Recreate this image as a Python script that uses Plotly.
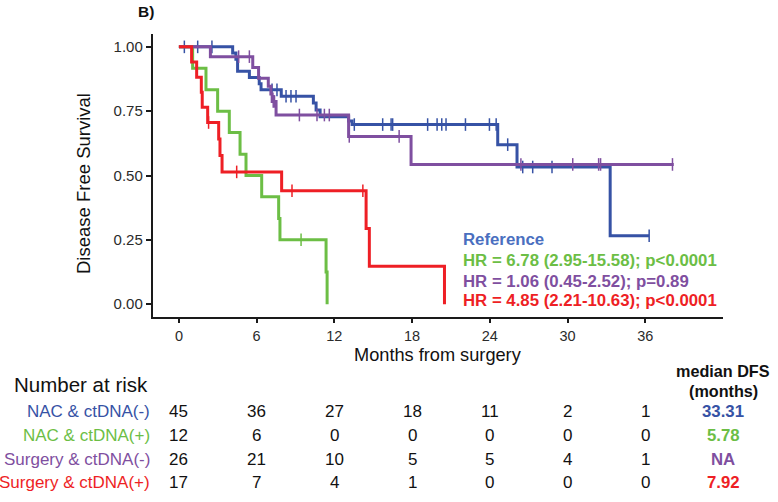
import plotly.graph_objects as go

# ---------------- data ----------------
groups = ["NAC & ctDNA(-)", "NAC & ctDNA(+)", "Surgery & ctDNA(-)", "Surgery & ctDNA(+)"]
colors = ["#3652A5", "#6CBE45", "#7F4FA0", "#EE1F25"]

time_nac_neg = [0, 4.15, 4.4, 4.53, 5.44, 6.2, 6.34, 7.9, 10.38, 10.59, 10.9, 13.1, 13.37, 24.61, 26.1, 33.29, 36.3]
surv_nac_neg = [1.0, 0.976, 0.952, 0.905, 0.881, 0.857, 0.833, 0.808, 0.782, 0.755, 0.728, 0.712, 0.698, 0.620, 0.533, 0.266, 0.266]
cens_nac_neg = [0.42, 1.45, 2.55, 7.19, 7.57, 8.27, 8.65, 9.04, 13.54, 15.73, 16.38, 16.5, 19.2, 19.93,
                20.29, 20.62, 22.12, 23.97, 24.49, 25.38, 26.54, 27.31, 28.8, 36.3]

time_nac_pos = [0, 1.06, 2.09, 2.99, 3.89, 4.72, 5.18, 6.39, 7.7, 7.8, 11.36, 11.44]
surv_nac_pos = [1.0, 0.917, 0.833, 0.75, 0.667, 0.583, 0.5, 0.417, 0.333, 0.25, 0.125, 0.0]
cens_nac_pos = [9.43]

time_sur_neg = [0, 2.43, 5.7, 6.15, 6.9, 7.1, 7.2, 7.5, 13.1, 17.92, 38.2]
surv_sur_neg = [1.0, 0.962, 0.920, 0.878, 0.847, 0.817, 0.788, 0.735, 0.652, 0.543, 0.543]
cens_sur_neg = [4.61, 5.44, 7.28, 7.38, 9.3, 10.66, 11.23, 11.61, 13.15, 17.0, 26.4, 30.4, 32.4, 32.55, 38.1]

time_sur_pos = [0, 0.98, 1.37, 1.73, 1.8, 2.22, 3.07, 3.17, 3.33, 7.93, 14.45, 14.7, 20.5]
surv_sur_pos = [1.0, 0.941, 0.882, 0.824, 0.765, 0.706, 0.642, 0.578, 0.514, 0.441, 0.294, 0.147, 0.0]
cens_sur_pos = [2.29, 4.46, 8.73, 14.2]

risk_times = [0, 6, 12, 18, 24, 30, 36]
risk_nac_neg = [45, 36, 27, 18, 11, 2, 1]
risk_nac_pos = [12, 6, 0, 0, 0, 0, 0]
risk_sur_neg = [26, 21, 10, 5, 5, 4, 1]
risk_sur_pos = [17, 7, 4, 1, 0, 0, 0]

median_dfs = ["33.31", "5.78", "NA", "7.92"]

hr_labels = ["Reference",
             "HR = 6.78 (2.95-15.58); p<0.0001",
             "HR = 1.06 (0.45-2.52); p=0.89",
             "HR = 4.85 (2.21-10.63); p<0.0001"]
hr_colors = ["#4A6FBF", "#6CBE45", "#7F4FA0", "#EE1F25"]

x_ticks = [0, 6, 12, 18, 24, 30, 36]
y_ticks = [0, 0.25, 0.5, 0.75, 1.0]

# ----------------------------------------------------------------
curves = [
    (time_nac_neg, surv_nac_neg, cens_nac_neg),
    (time_nac_pos, surv_nac_pos, cens_nac_pos),
    (time_sur_neg, surv_sur_neg, cens_sur_neg),
    (time_sur_pos, surv_sur_pos, cens_sur_pos),
]


def step_value(times, survs, t):
    v = survs[0]
    for ti, si in zip(times, survs):
        if ti <= t:
            v = si
        else:
            break
    return v


FONT = "Liberation Sans, Arial, Helvetica, sans-serif"

fig = go.Figure()
for (t, s, c), col, name in zip(curves, colors, groups):
    fig.add_trace(go.Scatter(x=t, y=s, mode="lines", line=dict(color=col, width=3, shape="hv"),
                             name=name, showlegend=False, hoverinfo="skip"))
    fig.add_trace(go.Scatter(x=c, y=[step_value(t, s, ci) for ci in c], mode="markers",
                             marker=dict(symbol="line-ns", size=9, line=dict(color=col, width=1.5)),
                             showlegend=False, hoverinfo="skip"))

fig.update_layout(
    width=778, height=502,
    margin=dict(l=153, r=55, t=34, b=185),
    paper_bgcolor="white", plot_bgcolor="white",
    font=dict(family=FONT, color="#222"),
)
fig.update_xaxes(range=[-2, 42], tickvals=x_ticks, ticktext=[str(v) for v in x_ticks],
                 showline=True, linecolor="#1a1a1a", linewidth=2.4, ticks="outside", ticklen=4,
                 tickwidth=1.8, tickcolor="#1a1a1a", showgrid=False, zeroline=False,
                 tickfont=dict(size=14.5, color="#2b2b2b", family=FONT))
fig.update_yaxes(range=[-0.05, 1.05], tickvals=y_ticks, ticktext=[f"{v:.2f}" for v in y_ticks],
                 showline=True, linecolor="#1a1a1a", linewidth=2.4, ticks="outside", ticklen=5,
                 tickwidth=1.8, tickcolor="#1a1a1a", showgrid=False, zeroline=False,
                 tickfont=dict(size=15, color="#2b2b2b", family=FONT))

H = 283.0  # plot height in px
W = 570.0  # plot width in px


def py(px):
    return (317 - px) / H


def pxp(px):
    return (px - 153) / W


ann = []
ann.append(dict(text="<b>B)</b>", x=pxp(136), y=py(12), xref="paper", yref="paper",
                xanchor="left", yanchor="middle", showarrow=False, font=dict(size=15.5, color="#111")))
ann.append(dict(text="Disease Free Survival", x=pxp(83), y=py(184), xref="paper", yref="paper",
                textangle=-90, showarrow=False, xanchor="center", yanchor="middle",
                font=dict(size=18.5, color="#111")))
ann.append(dict(text="Months from surgery", x=pxp(438), y=py(354.5), xref="paper", yref="paper",
                showarrow=False, xanchor="center", yanchor="middle", font=dict(size=18.2, color="#111")))

hr_y = [239.5, 260.5, 281, 300.5]
for lab, col, yy in zip(hr_labels, hr_colors, hr_y):
    ann.append(dict(text=f"<b>{lab}</b>", x=pxp(461), y=py(yy), xref="paper", yref="paper",
                    xanchor="left", yanchor="middle", showarrow=False, font=dict(size=16.8, color=col)))

ann.append(dict(text="Number at risk", x=pxp(12), y=py(384), xref="paper", yref="paper",
                xanchor="left", yanchor="middle", showarrow=False, font=dict(size=20.5, color="#111")))
ann.append(dict(text="<b>median DFS</b>", x=42, y=py(371), xref="x", yref="paper",
                xanchor="center", yanchor="middle", showarrow=False, font=dict(size=16.2, color="#111")))
ann.append(dict(text="<b>(months)</b>", x=42, y=py(391), xref="x", yref="paper",
                xanchor="center", yanchor="middle", showarrow=False, font=dict(size=16.2, color="#111")))

row_y = [411, 435, 459, 482]
risks = [risk_nac_neg, risk_nac_pos, risk_sur_neg, risk_sur_pos]
for g, col, yy, rr, med in zip(groups, colors, row_y, risks, median_dfs):
    ann.append(dict(text=g, x=pxp(152), y=py(yy), xref="paper", yref="paper", xanchor="right",
                    yanchor="middle", showarrow=False, font=dict(size=17, color=col)))
    for tt, n in zip(risk_times, rr):
        ann.append(dict(text=str(n), x=tt, y=py(yy), xref="x", yref="paper", xanchor="center",
                        yanchor="middle", showarrow=False, font=dict(size=17, color="#111")))
    ann.append(dict(text=f"<b>{med}</b>", x=42, y=py(yy), xref="x", yref="paper", xanchor="center",
                    yanchor="middle", showarrow=False, font=dict(size=16.8, color=col)))

fig.update_layout(annotations=ann)
fig.write_html("out.html")
